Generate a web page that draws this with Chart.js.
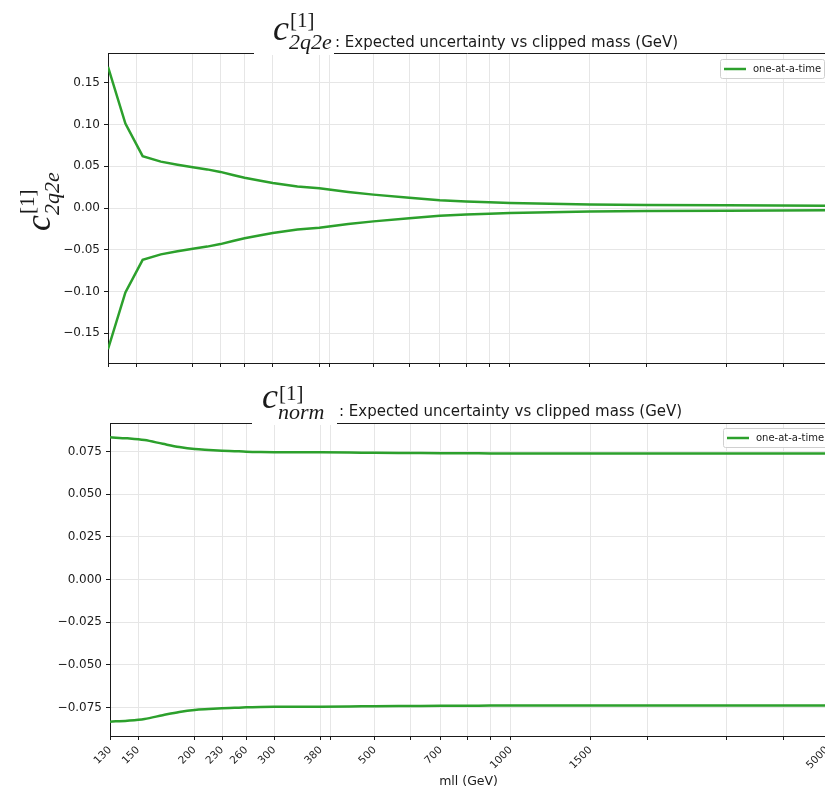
<!DOCTYPE html>
<html>
<head>
<meta charset="utf-8">
<title>Expected uncertainty vs clipped mass</title>
<script src="https://cdn.jsdelivr.net/npm/chart.js"></script>
<style>
  html, body { margin: 0; padding: 0; background: #fff; overflow: hidden; }
  .panel { position: absolute; left: 0; width: 840px; }
  #topPanel { top: 0; height: 380px; }
  #bottomPanel { top: 380px; height: 409px; }
</style>
</head>
<body>
<div class="panel" id="topPanel"><canvas id="c2q2eChart"></canvas></div>
<div class="panel" id="bottomPanel"><canvas id="cnormChart"></canvas></div>

<script>
// clipped mass points (GeV) and expected 1-sigma uncertainty
const masses    = [130, 142, 155, 170, 185, 200, 215, 230, 245, 260, 280, 300, 340, 380, 440, 500, 600, 700, 800, 900, 1000, 1500, 2000, 3000, 5000];
const sigma2q2e = [0.169, 0.101, 0.062, 0.0555, 0.0518, 0.0487, 0.0462, 0.0432, 0.0395, 0.0362, 0.033, 0.0300, 0.0258, 0.0235, 0.0192, 0.016, 0.0122, 0.0093, 0.0079, 0.0068, 0.006, 0.0042, 0.0036, 0.0032, 0.0028];
const sigmaNorm = [0.0833, 0.0827, 0.0817, 0.0795, 0.0776, 0.0764, 0.0759, 0.0755, 0.0752, 0.0749, 0.0747, 0.0746, 0.0745, 0.0745, 0.0744, 0.0742, 0.0741, 0.0740, 0.0740, 0.0739, 0.0739, 0.0738, 0.0738, 0.0738, 0.0738];

const xTicks      = [130, 150, 200, 230, 260, 300, 380, 400, 500, 600, 700, 800, 900, 1000, 1500, 2000, 3000, 4000, 5000];
const xTickLabels = [130, 150, 200, 230, 260, 300, 380, 500, 700, 1000, 1500, 5000];
const yTicks2q2e  = [-0.15, -0.10, -0.05, 0, 0.05, 0.10, 0.15];
const yTicksNorm  = [-0.075, -0.05, -0.025, 0, 0.025, 0.05, 0.075];

const seriesLabel = 'one-at-a-time';
const titleText = ': Expected uncertainty vs clipped mass (GeV)';
const xTitle = 'mll (GeV)';

const green = '#2ca02c';
const ink = '#1a1a1a';
const gridColor = '#e6e6e6';
const sans = '"DejaVu Sans", sans-serif';
const serif = '"Liberation Serif", "DejaVu Serif", serif';

function minus(s) { return s.replace('-', '\u2212'); }

function points(vals, sign) {
    return masses.map((m, i) => ({ x: m, y: sign * vals[i] }));
}

// c_{sub}^{[1]} drawn at baseline (x, y)
function drawMath(ctx, x, y, sub, m) {
    ctx.fillStyle = ink;
    ctx.textBaseline = 'alphabetic';
    ctx.textAlign = 'left';
    ctx.font = 'italic 36px ' + serif;
    ctx.fillText('c', x, y);
    const w = ctx.measureText('c').width;
    ctx.font = 'italic 22px ' + serif;
    ctx.fillText(sub, x + w, y + m.subDy);
    ctx.font = '21px ' + serif;
    ctx.fillText('[1]', x + w + 1, y + m.supDy);
}

function decor(cfg) {
    return {
        id: 'decor',
        afterDraw(chart) {
            const ctx = chart.ctx, a = chart.chartArea;
            ctx.save();
            // top spine
            ctx.strokeStyle = ink;
            ctx.lineWidth = 1;
            ctx.beginPath();
            ctx.moveTo(a.left, Math.round(a.top) + 0.5);
            ctx.lineTo(a.right, Math.round(a.top) + 0.5);
            ctx.stroke();
            // white backdrop of the math part of the title hides the spine there
            ctx.fillStyle = '#fff';
            ctx.fillRect(cfg.maskX0, a.top - 3, cfg.maskX1 - cfg.maskX0, 5);

            // title
            drawMath(ctx, cfg.titleX, cfg.titleY, cfg.sub, cfg.titleMath);
            ctx.font = '15px ' + sans;
            ctx.fillText(titleText, cfg.textX, cfg.textY);

            // y label
            ctx.save();
            ctx.translate(cfg.ylabX, cfg.ylabY);
            ctx.rotate(-Math.PI / 2);
            drawMath(ctx, 0, 0, cfg.sub, cfg.ylabMath);
            ctx.restore();

            // legend
            const lg = cfg.legend;
            ctx.fillStyle = 'rgba(255,255,255,0.85)';
            ctx.strokeStyle = '#d0d0d0';
            ctx.lineWidth = 1;
            ctx.beginPath();
            ctx.roundRect(lg.x + 0.5, lg.y + 0.5, lg.w, lg.h, 2);
            ctx.fill();
            ctx.stroke();
            ctx.strokeStyle = green;
            ctx.lineWidth = 2.5;
            ctx.beginPath();
            ctx.moveTo(lg.x + 4, lg.y + lg.h / 2 + 0.5);
            ctx.lineTo(lg.x + 26, lg.y + lg.h / 2 + 0.5);
            ctx.stroke();
            ctx.fillStyle = ink;
            ctx.font = '10px ' + sans;
            ctx.textBaseline = 'middle';
            ctx.fillText(chart.data.datasets[0].label, lg.x + 33, lg.y + lg.h / 2 + 1);

            // x axis title
            if (cfg.xTitle) {
                ctx.font = '12.5px ' + sans;
                ctx.textAlign = 'center';
                ctx.textBaseline = 'alphabetic';
                ctx.fillText(cfg.xTitle, (a.left + a.right) / 2, cfg.xTitleY);
            }
            ctx.restore();
        }
    };
}

function makeChart(id, vals, opts) {
    const ctx = document.getElementById(id).getContext('2d');
    const lineStyle = {
        borderColor: green,
        backgroundColor: green,
        borderWidth: 2.5,
        pointRadius: 0,
        fill: false,
        tension: opts.tension,
        cubicInterpolationMode: opts.cubic
    };
    return new Chart(ctx, {
        type: 'line',
        data: {
            datasets: [
                Object.assign({ label: seriesLabel, data: points(vals, 1) }, lineStyle),
                Object.assign({ label: seriesLabel, data: points(vals, -1) }, lineStyle)
            ]
        },
        options: {
            responsive: true,
            maintainAspectRatio: false,
            animation: false,
            devicePixelRatio: 1,
            layout: { padding: { left: 0, top: opts.padTop, right: opts.padRight, bottom: 0 } },
            plugins: {
                legend: { display: false },
                title: { display: false },
                tooltip: { enabled: false }
            },
            scales: {
                x: {
                    type: 'logarithmic',
                    min: 130,
                    max: 5000,
                    afterBuildTicks: (s) => { s.ticks = xTicks.map(v => ({ value: v })); },
                    afterFit: (s) => { s.height = opts.xHeight; },
                    border: { color: ink, width: 1 },
                    grid: { color: gridColor, lineWidth: 1, tickColor: ink, tickLength: 4 },
                    ticks: {
                        autoSkip: false,
                        maxRotation: 45,
                        minRotation: 45,
                        padding: 4,
                        color: ink,
                        font: { family: sans, size: 10.5 },
                        callback: (v) => (opts.xLabels && xTickLabels.includes(v)) ? String(v) : ''
                    }
                },
                y: {
                    min: -opts.yLim,
                    max: opts.yLim,
                    afterBuildTicks: (s) => { s.ticks = opts.yTicks.map(v => ({ value: v })); },
                    afterFit: (s) => { s.width = opts.yWidth; },
                    border: { color: ink, width: 1 },
                    grid: { color: gridColor, lineWidth: 1, tickColor: ink, tickLength: 4 },
                    ticks: {
                        padding: 4,
                        color: ink,
                        font: { family: sans, size: 12 },
                        callback: (v) => minus(v.toFixed(opts.digits))
                    }
                }
            }
        },
        plugins: [decor(opts.decor)]
    });
}

makeChart('c2q2eChart', sigma2q2e, {
    tension: 0, cubic: 'default',
    padTop: 53, padRight: 9.5, xHeight: 17, yWidth: 108,
    yLim: 0.1855, yTicks: yTicks2q2e, digits: 2, xLabels: false,
    decor: {
        sub: '2q2e',
        maskX0: 254, maskX1: 334,
        titleX: 273, titleY: 40, titleMath: { subDy: 8.5, supDy: -13 },
        textX: 335, textY: 47,
        ylabX: 50, ylabY: 231, ylabMath: { subDy: 8.5, supDy: -16 },
        legend: { x: 720, y: 59, w: 104, h: 19 }
    }
});

makeChart('cnormChart', sigmaNorm, {
    tension: 0.4, cubic: 'monotone',
    padTop: 43, padRight: 6, xHeight: 53, yWidth: 110,
    yLim: 0.0917, yTicks: yTicksNorm, digits: 3, xLabels: true,
    decor: {
        sub: 'norm',
        maskX0: 252, maskX1: 337,
        titleX: 262, titleY: 28, titleMath: { subDy: 11, supDy: -8 },
        textX: 339, textY: 35.5,
        ylabX: 47, ylabY: 616, ylabMath: { subDy: 7, supDy: -17 },
        legend: { x: 723, y: 48, w: 110, h: 19 },
        xTitle: xTitle, xTitleY: 405
    }
});
</script>
</body>
</html>
